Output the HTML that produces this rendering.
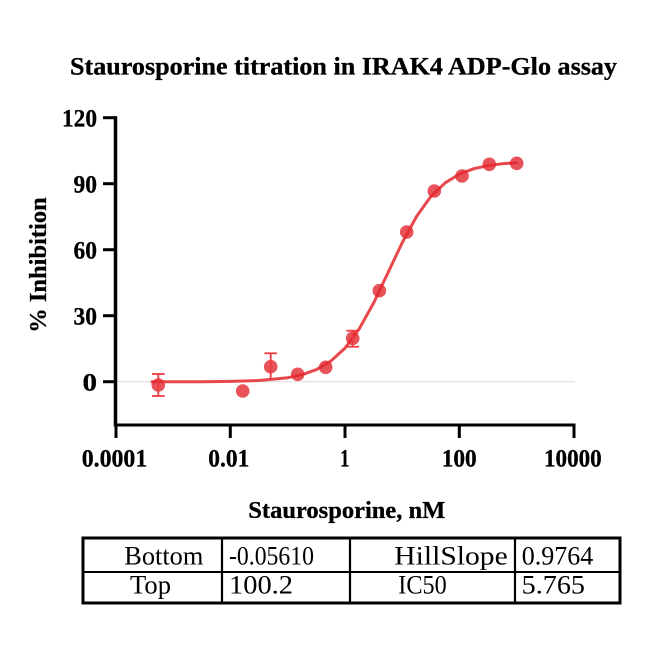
<!DOCTYPE html>
<html>
<head>
<meta charset="utf-8">
<style>
  html, body { margin:0; padding:0; background:#fff; }
  svg { display:block; }
  text { font-family: "Liberation Serif", "Times New Roman", serif; fill:#000; }
  .b { font-weight:bold; }
</style>
</head>
<body>
<svg width="654" height="654" viewBox="0 0 654 654" xmlns="http://www.w3.org/2000/svg" font-family="'Liberation Serif', serif">
  <rect width="654" height="654" fill="#fff"/>

  <!-- Title -->
  <text class="b" x="70" y="74.5" font-size="25" textLength="547" lengthAdjust="spacingAndGlyphs" stroke="#000" stroke-width="0.3">Staurosporine titration in IRAK4 ADP-Glo assay</text>

  <!-- zero gridline -->
  <line x1="117" y1="381.7" x2="575" y2="381.7" stroke="#d9d9d9" stroke-width="1"/>

  <!-- Axes -->
  <line x1="115.5" y1="116.2" x2="115.5" y2="426.5" stroke="#000" stroke-width="3.5"/>
  <line x1="114" y1="425" x2="575.5" y2="425" stroke="#000" stroke-width="3"/>

  <!-- Y ticks -->
  <g stroke="#000" stroke-width="3">
    <line x1="103" y1="117.7" x2="116" y2="117.7"/>
    <line x1="103" y1="183.7" x2="116" y2="183.7"/>
    <line x1="103" y1="249.7" x2="116" y2="249.7"/>
    <line x1="103" y1="315.7" x2="116" y2="315.7"/>
    <line x1="103" y1="381.7" x2="116" y2="381.7"/>
  </g>
  <g font-size="25" text-anchor="end" stroke="#000" stroke-width="0.3">
    <text class="b" x="97" y="126.6" textLength="35" lengthAdjust="spacingAndGlyphs">120</text>
    <text class="b" x="97" y="192.6" textLength="23.5" lengthAdjust="spacingAndGlyphs">90</text>
    <text class="b" x="97" y="258.6" textLength="23.5" lengthAdjust="spacingAndGlyphs">60</text>
    <text class="b" x="97" y="324.6" textLength="23.5" lengthAdjust="spacingAndGlyphs">30</text>
    <text class="b" x="97" y="390.6" textLength="14.5" lengthAdjust="spacingAndGlyphs">0</text>
  </g>

  <!-- X ticks -->
  <g stroke="#000" stroke-width="3">
    <line x1="116" y1="424" x2="116" y2="438"/>
    <line x1="230.3" y1="424" x2="230.3" y2="438"/>
    <line x1="345" y1="424" x2="345" y2="438"/>
    <line x1="459.3" y1="424" x2="459.3" y2="438"/>
    <line x1="574" y1="424" x2="574" y2="438"/>
  </g>
  <g font-size="25" stroke="#000" stroke-width="0.3">
    <text class="b" x="81.7" y="466.5" textLength="65.6" lengthAdjust="spacingAndGlyphs">0.0001</text>
    <text class="b" x="208.3" y="466.5" textLength="41" lengthAdjust="spacingAndGlyphs">0.01</text>
    <text class="b" x="340" y="466.5" textLength="9.5" lengthAdjust="spacingAndGlyphs">1</text>
    <text class="b" x="441.7" y="466.5" textLength="35" lengthAdjust="spacingAndGlyphs">100</text>
    <text class="b" x="544" y="466.5" textLength="57.7" lengthAdjust="spacingAndGlyphs">10000</text>
  </g>

  <!-- Axis labels -->
  <text class="b" x="248.3" y="518" font-size="24.5" textLength="197" lengthAdjust="spacingAndGlyphs" stroke="#000" stroke-width="0.3">Staurosporine, nM</text>
  <text class="b" transform="translate(46,332.7) rotate(-90)" x="0" y="0" font-size="24.5" textLength="135.4" lengthAdjust="spacingAndGlyphs" stroke="#000" stroke-width="0.3">% Inhibition</text>

  <!-- Fit curve -->
  <polyline fill="none" stroke="#e8474c" stroke-width="3" stroke-linejoin="round" stroke-linecap="round"
    points="152.1,381.8 201.9,381.7 230.5,381.4 259.1,380.5 287.75,377.7 302.1,374.7 316.4,369.6 330.7,361.2 345,348.1 359.3,328.7 373.6,303.0 387.9,272.9 402.25,242.6 416.6,216.4 430.9,196.4 445.2,182.8 459.5,174.1 473.8,168.7 488.1,165.6 502.4,163.7 516.75,162.7"/>

  <!-- Data points -->
  <g fill="rgb(226,40,48)" fill-opacity="0.8">
    <circle cx="158.3" cy="385" r="6.8"/>
    <circle cx="242.7" cy="391" r="6.8"/>
    <circle cx="270.7" cy="366.7" r="6.8"/>
    <circle cx="297.7" cy="374.3" r="6.8"/>
    <circle cx="325.7" cy="367.3" r="6.8"/>
    <circle cx="352.7" cy="338.3" r="6.8"/>
    <circle cx="379.3" cy="290.7" r="6.8"/>
    <circle cx="406.7" cy="232" r="6.8"/>
    <circle cx="434.3" cy="191" r="6.8"/>
    <circle cx="462" cy="176" r="6.8"/>
    <circle cx="489.3" cy="164.3" r="6.8"/>
    <circle cx="516.7" cy="163.3" r="6.8"/>
  </g>

  <!-- Error bars -->
  <g stroke="#ee3a40" stroke-width="1.8" fill="none">
    <line x1="158.3" y1="374" x2="158.3" y2="396"/>
    <line x1="152" y1="374" x2="164.6" y2="374"/>
    <line x1="152" y1="396" x2="164.6" y2="396"/>

    <line x1="270.7" y1="353.3" x2="270.7" y2="379.3"/>
    <line x1="264.4" y1="353.3" x2="277" y2="353.3"/>

    <line x1="352.7" y1="330.7" x2="352.7" y2="346.7"/>
    <line x1="346.4" y1="330.7" x2="359" y2="330.7"/>
    <line x1="346.4" y1="346.7" x2="359" y2="346.7"/>
  </g>

  <!-- Table -->
  <g stroke="#000" fill="none">
    <rect x="83" y="538" width="537" height="65" stroke-width="3"/>
    <line x1="83" y1="572" x2="620" y2="572" stroke-width="2"/>
    <line x1="222" y1="538" x2="222" y2="603" stroke-width="2.2"/>
    <line x1="350" y1="538" x2="350" y2="603" stroke-width="2.2"/>
    <line x1="515" y1="538" x2="515" y2="603" stroke-width="2.2"/>
  </g>
  <g font-size="26">
    <text x="124.3" y="564.3" textLength="79" lengthAdjust="spacingAndGlyphs">Bottom</text>
    <text x="229" y="564.3" textLength="85" lengthAdjust="spacingAndGlyphs">-0.05610</text>
    <text x="394.3" y="564.3" textLength="113.4" lengthAdjust="spacingAndGlyphs">HillSlope</text>
    <text x="521.7" y="564.3" textLength="71.6" lengthAdjust="spacingAndGlyphs">0.9764</text>
    <text x="130" y="593.5" textLength="41" lengthAdjust="spacingAndGlyphs">Top</text>
    <text x="229" y="593.5" textLength="64" lengthAdjust="spacingAndGlyphs">100.2</text>
    <text x="398.3" y="593.5" textLength="48.4" lengthAdjust="spacingAndGlyphs">IC50</text>
    <text x="521.7" y="593.5" textLength="63.3" lengthAdjust="spacingAndGlyphs">5.765</text>
  </g>
</svg>
</body>
</html>
